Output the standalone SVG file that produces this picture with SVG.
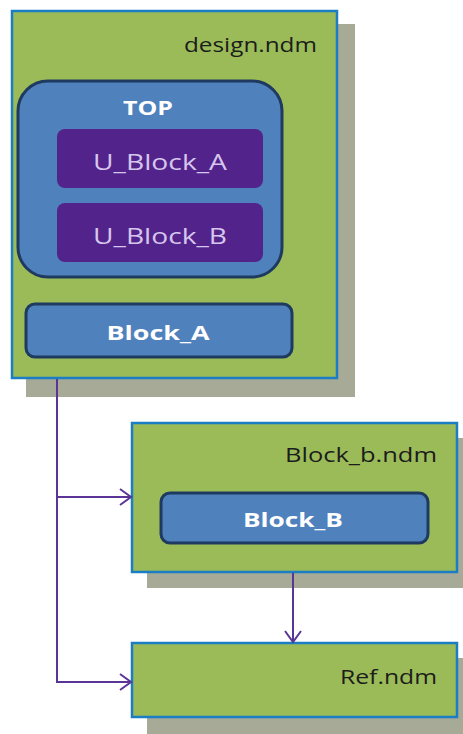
<svg xmlns="http://www.w3.org/2000/svg" width="463" height="734" viewBox="0 0 463 734">
  <style>
    .shadow { fill: #a7aa97; }
    .lib { fill: #9bbb59; stroke: #1b7dc4; stroke-width: 2.5; }
    .libname { font-family: "Open Sans", "Liberation Sans", sans-serif; font-size: 20px; fill: #1c1c1c; text-anchor: end; }
    .top { fill: #4f81bd; stroke: #1f3a60; stroke-width: 3; }
    .inst { fill: #52238a; }
    .instname { font-family: "Open Sans", "Liberation Sans", sans-serif; font-size: 22px; fill: #d6c6ee; text-anchor: middle; }
    .blk { fill: #4f81bd; stroke: #1f3a60; stroke-width: 3; }
    .blkname { font-family: "Open Sans", "Liberation Sans", sans-serif; font-size: 20px; font-weight: bold; fill: #ffffff; text-anchor: middle; }
    .link { fill: none; stroke: #5b3595; stroke-width: 2; }
  </style>
  <defs>
    <marker id="open-arrow" markerWidth="14" markerHeight="18" refX="12" refY="9" orient="auto" markerUnits="userSpaceOnUse">
      <path d="M1,1 L12,9 L1,17" fill="none" stroke="#5b3595" stroke-width="2"/>
    </marker>
  </defs>

  <rect width="463" height="734" fill="#ffffff"/>

  <!-- design library with TOP and Block_A -->
  <g id="design-ndm">
    <rect class="shadow" x="26" y="24" width="329" height="373"/>
    <rect class="lib" x="12" y="11" width="325" height="367"/>
    <text class="libname" x="317" y="52" textLength="133" lengthAdjust="spacingAndGlyphs">design.ndm</text>
  </g>

  <g id="top">
    <rect class="top" x="18" y="81" width="264" height="196" rx="30" ry="30"/>
    <text class="blkname" x="148" y="115" font-size="22" textLength="50" lengthAdjust="spacingAndGlyphs">TOP</text>
  </g>

  <g id="u-block-a">
    <rect class="inst" x="57" y="129" width="206" height="59" rx="8" ry="8"/>
    <text class="instname" x="160" y="170" textLength="134" lengthAdjust="spacingAndGlyphs">U_Block_A</text>
  </g>

  <g id="u-block-b">
    <rect class="inst" x="57" y="203" width="206" height="59" rx="8" ry="8"/>
    <text class="instname" x="160" y="244" textLength="134" lengthAdjust="spacingAndGlyphs">U_Block_B</text>
  </g>

  <g id="block-a">
    <rect class="blk" x="26" y="304" width="266" height="53" rx="9" ry="9"/>
    <text class="blkname" x="158" y="340" textLength="103" lengthAdjust="spacingAndGlyphs">Block_A</text>
  </g>

  <!-- Block_b library -->
  <g id="block-b-ndm">
    <rect class="shadow" x="147" y="438" width="325" height="150"/>
    <rect class="lib" x="132" y="423" width="325" height="149"/>
    <text class="libname" x="437" y="462" textLength="152" lengthAdjust="spacingAndGlyphs">Block_b.ndm</text>
  </g>

  <g id="block-b">
    <rect class="blk" x="161" y="493" width="267" height="50" rx="9" ry="9"/>
    <text class="blkname" x="293" y="527" textLength="100" lengthAdjust="spacingAndGlyphs">Block_B</text>
  </g>

  <!-- reference library -->
  <g id="ref-ndm">
    <rect class="shadow" x="147" y="658" width="325" height="76"/>
    <rect class="lib" x="132" y="643" width="325" height="74"/>
    <text class="libname" x="437" y="684" textLength="97" lengthAdjust="spacingAndGlyphs">Ref.ndm</text>
  </g>

  <!-- dependency links -->
  <g id="connectors">
    <path class="link" d="M57,379 L57,682 L131,682" marker-end="url(#open-arrow)"/>
    <path class="link" d="M57,497 L131,497" marker-end="url(#open-arrow)"/>
    <path class="link" d="M293,573 L293,642" marker-end="url(#open-arrow)"/>
  </g>
</svg>
